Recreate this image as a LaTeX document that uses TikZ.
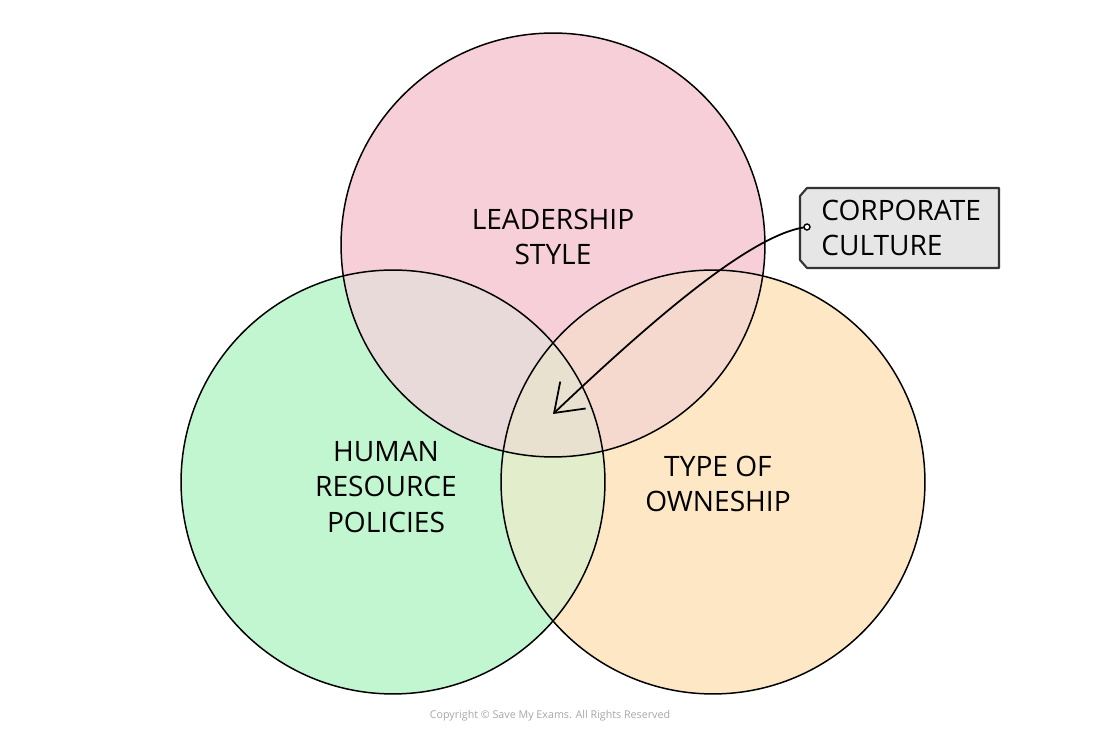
\documentclass[tikz,border=0pt]{standalone}
\usepackage{fontspec}
\newfontfamily\labelfont{Open Sans}
\usetikzlibrary{arrows.meta}

\definecolor{pinkc}{HTML}{F7CFD8}
\definecolor{greenc}{HTML}{C1F6D0}
\definecolor{orangec}{HTML}{FDE7C5}
\definecolor{pgc}{HTML}{E8DAD8}
\definecolor{poc}{HTML}{F6D9CE}
\definecolor{goc}{HTML}{E1EDCB}
\definecolor{allc}{HTML}{E8E1CF}
\definecolor{tagc}{HTML}{E6E6E6}

\tikzset{
    setlabel/.style={align=center, font=\labelfont\fontsize{16}{20}\selectfont, inner sep=0pt},
    ring/.style={draw=black, line width=0.85pt},
}

\begin{document}
\begin{tikzpicture}[x=0.02cm, y=-0.02cm]
    \useasboundingbox (0,0) rectangle (1100,739);

    \coordinate (pc) at (553,245) ;
    \coordinate (gc) at (393,482) ;
    \coordinate (oc) at (713,482) ;

    % plain fills
    \fill[pinkc] (pc) circle[radius=4.24cm] ;
    \fill[greenc] (gc) circle[radius=4.24cm] ;
    \fill[orangec] (oc) circle[radius=4.24cm] ;

    % overlaps
    \begin{scope}
        \clip (pc) circle[radius=4.24cm] ;
        \fill[pgc] (gc) circle[radius=4.24cm] ;
        \fill[poc] (oc) circle[radius=4.24cm] ;
    \end{scope}
    \begin{scope}
        \clip (gc) circle[radius=4.24cm] ;
        \fill[goc] (oc) circle[radius=4.24cm] ;
    \end{scope}
    \begin{scope}
        \clip (pc) circle[radius=4.24cm] ;
        \clip (gc) circle[radius=4.24cm] ;
        \fill[allc] (oc) circle[radius=4.24cm] ;
    \end{scope}

    \draw[ring] (pc) circle[radius=4.24cm] ;
    \draw[ring] (gc) circle[radius=4.24cm] ;
    \draw[ring] (oc) circle[radius=4.24cm] ;

    \node[setlabel] (lead) at (553,237) {LEADERSHIP\\STYLE} ;
    \node[setlabel] (hr) at (386,487) {HUMAN\\RESOURCE\\POLICIES} ;
    \node[setlabel] (own) at (718,484) {TYPE OF\\OWNESHIP} ;

    % tag
    \draw[fill=tagc, draw=black!80, line width=1.2pt, line join=round]
        (807,188) -- (999,188) -- (999,268) -- (807,268) -- (800,260)
        -- (800,196) -- cycle ;
    \node[setlabel, align=left, anchor=west] (cult) at (821,228)
        {CORPORATE\\CULTURE} ;
    \coordinate (hole) at (807,227) ;
    \coordinate (tip) at (553,414) ;
    \draw[line width=1pt, -{Straight Barb[length=0.52cm, width=0.74cm]}]
        (hole) .. controls (752,233) and (650,322) .. (tip) ;
    \draw[fill=white, line width=0.8pt] (hole) circle[radius=0.06cm] ;

    \node[text=black!35, font=\labelfont\fontsize{6.1}{8}\selectfont] (copy)
        at (550,716) {Copyright © Save My Exams. All Rights Reserved} ;
\end{tikzpicture}
\end{document}
